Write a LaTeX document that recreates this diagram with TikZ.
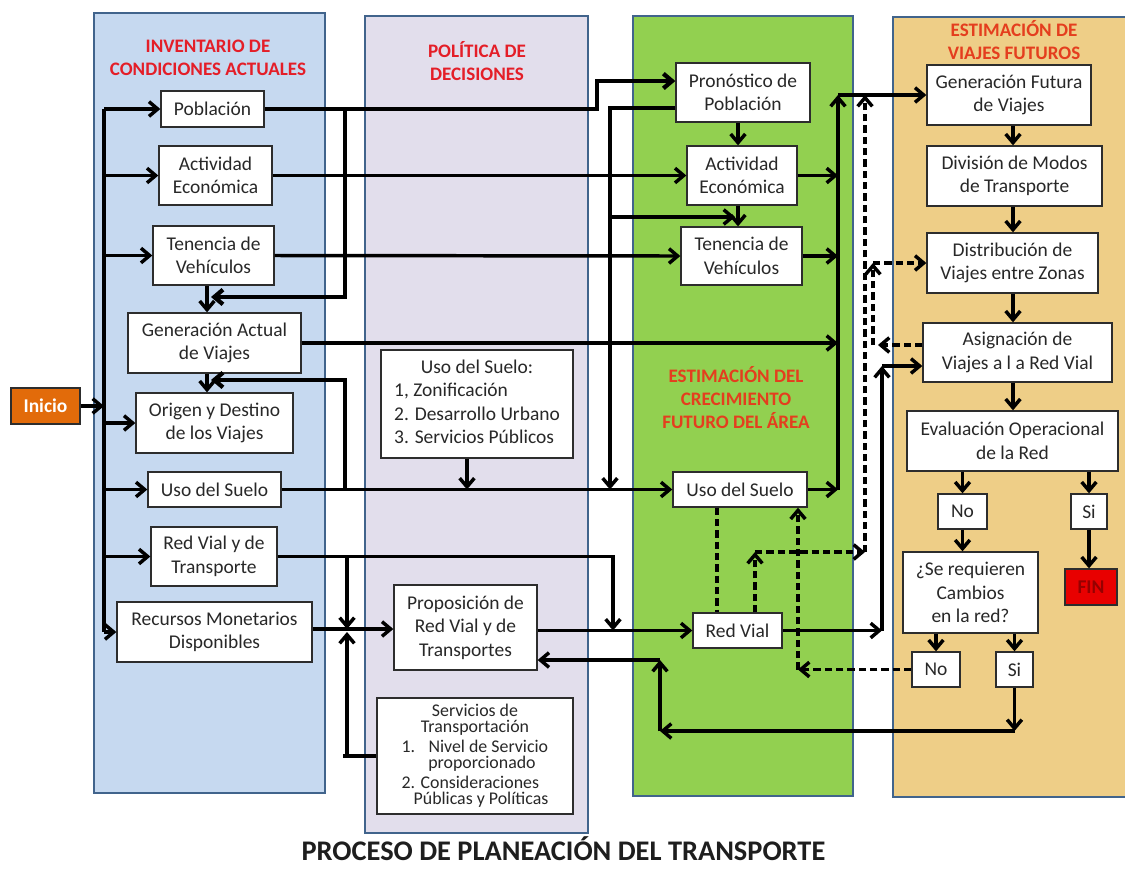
\documentclass[tikz,border=0pt]{standalone}
\usepackage{fontspec}
\setmainfont{Carlito}
\usetikzlibrary{arrows.meta,calc}
\definecolor{pblue}{RGB}{198,217,240}
\definecolor{plav}{RGB}{226,222,236}
\definecolor{pgreen}{RGB}{146,208,80}
\definecolor{ptan}{RGB}{238,206,135}
\definecolor{pborder}{RGB}{65,100,140}
\definecolor{tred}{RGB}{228,30,40}
\definecolor{tora}{RGB}{228,62,30}
\definecolor{inicioc}{RGB}{226,107,10}
\definecolor{finred}{RGB}{232,0,0}
\definecolor{fintext}{RGB}{150,0,0}
\definecolor{txt}{RGB}{40,40,40}
\definecolor{boxline}{RGB}{45,45,45}
\newcommand\myBody{\fontsize{14.6pt}{17.6pt}\selectfont}
\newcommand\myTitle{\fontsize{14.3pt}{17.2pt}\selectfont\bfseries}
\begin{document}
\begin{tikzpicture}[x=0.75pt,y=-0.75pt,
  panel/.style={draw=pborder, line width=2.2pt},
  wh/.style 2 args={minimum width=#1*0.75pt, minimum height=#2*0.75pt},
  box/.style={draw=boxline, fill=white, line width=1pt, inner sep=0pt, align=center, font=\myBody, text=txt},
  ptitle/.style={font=\myTitle, align=center, text=tred},
  conn/.style={line width=2.6pt},
  thickconn/.style={line width=3.2pt},
  arr/.style={conn, -{Straight Barb[length=6.5pt,width=11pt]}},
  dconn/.style={conn, dash pattern=on 5.5pt off 3pt},
  darr/.style={arr, dash pattern=on 5.5pt off 3pt}]
\useasboundingbox (0,0) rectangle (1125,869);
\fill[white] (0,0) rectangle (1125,869);

% panels
\filldraw[panel, fill=pblue] (94,13) rectangle (325,793);
\filldraw[panel, fill=plav] (365,16) rectangle (588,833);
\filldraw[panel, fill=pgreen] (633,16) rectangle (853,796);
\filldraw[panel, fill=ptan] (893,17) rectangle (1140,797);

% titles
\node[ptitle] (t1) at (208,57.5) {INVENTARIO DE\\CONDICIONES ACTUALES};
\node[ptitle] (t2) at (477,61) {POLÍTICA DE\\DECISIONES};
\node[ptitle, text=tora] (t3) at (736,397.5) {ESTIMACIÓN DEL\\CRECIMIENTO\\FUTURO DEL ÁREA};
\node[ptitle, text=tora] (t4) at (1014,40.5) {ESTIMACIÓN DE\\VIAJES FUTUROS};
\node[font=\fontsize{21.3pt}{25pt}\selectfont\bfseries, text={rgb,255:red,30;green,30;blue,30}] (title) at (563.5,849) {PROCESO DE PLANEACIÓN DEL TRANSPORTE};

% start
\node[box, wh={69}{36}, fill=inicioc, text=white, font=\myBody\bfseries] (inicio) at (45.5,406) {Inicio};

% blue column
\node[box, wh={103}{36}] (pob) at (212.5,109) {Población};
\node[box, wh={113}{59}] (act) at (215.5,175.5) {Actividad\\Económica};
\node[box, wh={121}{59}] (ten) at (213.5,255.5) {Tenencia de\\Vehículos};
\node[box, wh={173}{60}] (gen) at (214.5,343) {Generación Actual\\de Viajes};
\node[box, wh={157}{60}] (ori) at (214.5,423) {Origen y Destino\\de los Viajes};
\node[box, wh={133}{35}] (uso) at (214.5,489.5) {Uso del Suelo};
\node[box, wh={126}{59}] (red) at (214,556.5) {Red Vial y de\\Transporte};
\node[box, wh={195}{60}] (rec) at (214.5,632) {Recursos Monetarios\\Disponibles};

% policy column
\node[box, wh={192}{108}] (usop) at (477,404) {\begin{tabular}{@{}l@{}}\multicolumn{1}{@{}c@{}}{Uso del Suelo:}\\1, Zonificación\\2. Desarrollo Urbano\\3. Servicios Públicos\end{tabular}};
\node[box, wh={143}{85}] (prop) at (465.5,627.5) {Proposición de\\Red Vial y de\\Transportes};
\node[box, wh={196}{116}, font=\fontsize{13.4pt}{15pt}\selectfont] (serv) at (475,756) {\begin{tabular}{@{}l@{}}\multicolumn{1}{@{}c@{}}{Servicios de}\\[-3pt]\multicolumn{1}{@{}c@{}}{Transportación}\\1.\hspace{10pt}Nivel de Servicio\\[-3pt]\hspace{20pt}proporcionado\\2. Consideraciones\\[-3pt]\hspace{9pt}Públicas y Políticas\end{tabular}};

% green column
\node[box, wh={134}{59}] (pron) at (743,92.5) {Pronóstico de\\Población};
\node[box, wh={110}{59}] (acte) at (742,175.5) {Actividad\\Económica};
\node[box, wh={121}{58}] (tene) at (741.5,256) {Tenencia de\\Vehículos};
\node[box, wh={134}{35}] (usoe) at (740,489.5) {Uso del Suelo};
\node[box, wh={89}{35}] (redv) at (737.5,630.5) {Red Vial};

% tan column
\node[box, wh={164}{60}] (genf) at (1009,95) {Generación Futura\\de Viajes};
\node[box, wh={175}{60}] (div) at (1014.5,176) {División de Modos\\de Transporte};
\node[box, wh={171}{60}] (dist) at (1012.5,263) {Distribución de\\Viajes entre Zonas};
\node[box, wh={189}{59}] (asig) at (1017.5,352.5) {Asignación de\\Viajes a l a Red Vial};
\node[box, wh={211}{60}] (eval) at (1012.5,441) {Evaluación Operacional\\de la Red};
\node[box, wh={49}{35}] (no1) at (962.5,511.5) {No};
\node[box, wh={36}{35}] (si1) at (1089,511.5) {Si};
\node[box, wh={135}{81}] (req) at (970.5,592.5) {¿Se requieren\\Cambios\\en la red?};
\node[box, wh={52}{36}, fill=finred, text=fintext, font=\myBody\bfseries] (fin) at (1091,587) {FIN};
\node[box, wh={48}{35}] (no2) at (936,669.5) {No};
\node[box, wh={37}{35}] (si2) at (1014.5,669.5) {Si};

% helper coordinates
\coordinate (busL) at (104,0);
\coordinate (busR) at (838,0);
\coordinate (x207) at (207,0);
\coordinate (x211) at (211,0);
\coordinate (x343) at (343,0);
\coordinate (x345) at (345,0);
\coordinate (x347) at (347,0);
\coordinate (x467) at (467,0);
\coordinate (x597) at (597,0);
\coordinate (x610) at (610,0);
\coordinate (x613) at (613,0);
\coordinate (x660) at (660,0);
\coordinate (x717) at (717,0);
\coordinate (x735) at (735,0);
\coordinate (x738) at (738,0);
\coordinate (x755) at (755,0);
\coordinate (x798) at (798,0);
\coordinate (x865) at (865,0);
\coordinate (x873) at (873,0);
\coordinate (x878) at (878,0);
\coordinate (x882) at (882,0);
\coordinate (x1013) at (1013,0);
\coordinate (y81) at (0,81);
\coordinate (y108) at (0,108);
\coordinate (y217) at (0,217);
\coordinate (y297) at (0,297);
\coordinate (y345) at (0,345);
\coordinate (y366) at (0,366);
\coordinate (y380) at (0,380);
\coordinate (y552) at (0,552);
\coordinate (y629) at (0,629);
\coordinate (y660) at (0,660);
\coordinate (y731) at (0,731);

% left bus
\draw[conn] (busL |- pob.west) -- (busL |- rec.west);
\draw[arr] (inicio.east) -- (busL |- inicio.east);
\foreach \n in {pob,act,ten,ori,uso,red,rec}
  \draw[arr] (busL |- \n.west) -- (\n.west);

% blue internal
\draw[arr] (ten.south -| x207) -- (gen.north -| x207);
\draw[arr] (gen.south -| x207) -- (ori.north -| x207);
\draw[arr, thickconn] (x345 |- pob.east) -- (x345 |- y297) -- (x211 |- y297);
\draw[arr, thickconn] (x345 |- uso.east) -- (x345 |- y380) -- (x211 |- y380);

% blue to right
\draw[arr, thickconn] (pob.east) -- (pob.east -| x597) -- (x597 |- y81) -- (pron.west |- y81);
\draw[arr] (act.east) -- (acte.west);
\draw[arr] (ten.east) -- (tene.west);
\draw[arr] (gen.east) -- (gen.east -| busR);
\draw[arr] (uso.east) -- (usoe.west);
\draw[arr] (usop.south -| x467) -- (x467 |- uso.east);
\draw[arr] (red.east) -- (red.east -| x613) -- (x613 |- redv.west);
\draw[arr] (x347 |- red.east) -- (x347 |- y629);
\draw[arr] (rec.east |- y629) -- (prop.west |- y629);
\draw[thickconn] (serv.west) -- (x343 |- serv.west);
\draw[arr] (x347 |- serv.west) -- ($(x347 |- y629)+(0,3)$);
\draw[arr] (prop.east |- redv.west) -- (redv.west);

% green internal
\draw[arr] (pron.west |- y108) -- (x610 |- y108) -- (x610 |- uso.east);
\draw[arr] (x610 |- y217) -- (x735 |- y217);
\draw[arr] (pron.south -| x738) -- (acte.north -| x738);
\draw[arr] (acte.south -| x738) -- (tene.north -| x738);
\draw[arr] (acte.east) -- (acte.east -| busR);
\draw[arr] (tene.east) -- (tene.east -| busR);
\draw[arr] (usoe.east) -- (usoe.east -| busR);
\draw[arr] (usoe.east -| busR) -- (busR |- genf.west);
\draw[arr] (busR |- genf.west) -- (genf.west);

% red vial to asignacion
\draw[arr] (redv.east) -- (redv.east -| x882);
\draw[arr] (redv.east -| x882) -- (x882 |- y366);
\draw[arr] (x882 |- y366) -- (asig.west |- y366);

% tan chain
\draw[arr] (genf.south -| x1013) -- (div.north -| x1013);
\draw[arr] (div.south -| x1013) -- (dist.north -| x1013);
\draw[arr] (dist.south -| x1013) -- (asig.north -| x1013);
\draw[arr] (asig.south -| x1013) -- (eval.north -| x1013);
\draw[arr] (eval.south -| no1.north) -- (no1.north);
\draw[arr] (eval.south -| si1.north) -- (si1.north);
\draw[arr] (no1.south) -- (req.north -| no1.south);
\draw[arr] (si1.south) -- (fin.north -| si1.south);
\draw[arr] (req.south -| no2.north) -- (no2.north);
\draw[arr] (req.south -| si2.north) -- (si2.north);

% bottom loop
\draw[arr] (si2.south) -- (si2.south |- y731);
\draw[arr] (si2.south |- y731) -- (x660 |- y731);
\draw[arr] (x660 |- y731) -- (x660 |- y660);
\draw[arr] (x660 |- y660) -- (prop.east |- y660);

% dashed feedback
\draw[darr] (no2.west) -- (no2.west -| x798);
\draw[darr] (no2.west -| x798) -- (usoe.south -| x798);
\draw[dconn] (usoe.south -| x717) -- (redv.north -| x717);
\draw[darr] (redv.north -| x755) -- (x755 |- y552);
\draw[darr] (x755 |- y552) -- (x865 |- y552);
\draw[darr] (x865 |- y552) -- (x865 |- genf.west);
\draw[darr] (asig.west |- y345) -- (x878 |- y345);
\draw[darr] (x873 |- y345) -- (x873 |- dist.west);
\draw[darr] (x873 |- dist.west) -- (dist.west);
\end{tikzpicture}
\end{document}
